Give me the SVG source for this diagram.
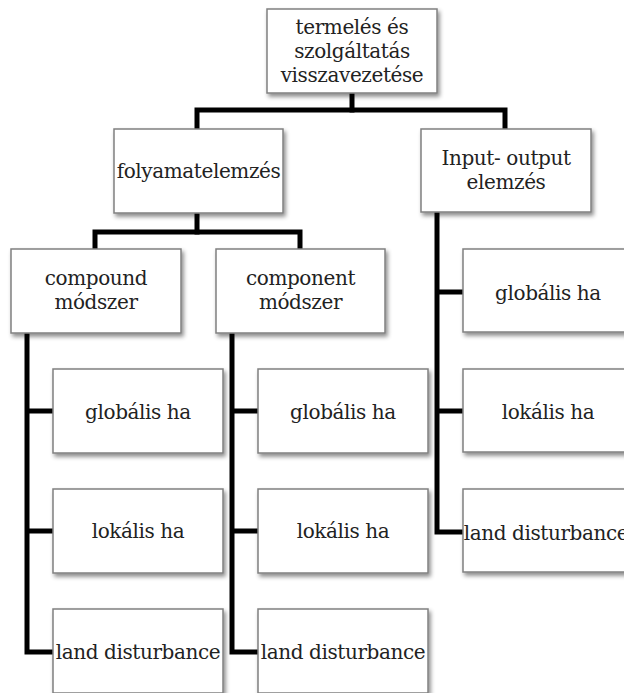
<svg xmlns="http://www.w3.org/2000/svg" width="624" height="693" viewBox="0 0 624 693">
<defs>
<filter id="sh" x="-10%" y="-10%" width="125%" height="135%">
<feDropShadow dx="2" dy="3" stdDeviation="2" flood-color="#000" flood-opacity="0.45"/>
</filter>
</defs>
<style>
.box{fill:#fff;stroke:#808080;stroke-width:1.5;filter:url(#sh)}
.t{font-family:'DejaVu Serif',serif;font-size:20px;fill:#222;text-anchor:middle;letter-spacing:-0.4px}
.c{fill:none;stroke:#000;stroke-width:5;stroke-linejoin:miter;stroke-linecap:square}
</style>
<rect width="624" height="693" fill="#fff"/>
<g id="connectors">
<path class="c" d="M352,95 V110"/>
<path class="c" d="M197,127 V110 H505 V127"/>
<path class="c" d="M197,215 V232"/>
<path class="c" d="M95,247 V232 H300 V247"/>
<path class="c" d="M27,335 V652 H51 M27,411 H51 M27,531 H51"/>
<path class="c" d="M232,335 V652 H256 M232,411 H256 M232,531 H256"/>
<path class="c" d="M437,214 V532 H461 M437,292 H461 M437,411 H461"/>
</g>
<g id="root">
<rect class="box" x="267" y="9" width="170" height="84"/>
<text class="t" x="352" y="34">termelés és</text>
<text class="t" x="352" y="58">szolgáltatás</text>
<text class="t" x="352" y="82">visszavezetése</text>
</g>
<g id="folyamat">
<rect class="box" x="114" y="129" width="169" height="84"/>
<text class="t" x="198.5" y="178">folyamatelemzés</text>
</g>
<g id="io">
<rect class="box" x="421" y="129" width="170" height="83"/>
<text class="t" x="506" y="165">Input- output</text>
<text class="t" x="506" y="189">elemzés</text>
</g>
<g id="compound">
<rect class="box" x="11" y="249" width="170" height="84"/>
<text class="t" x="96" y="285">compound</text>
<text class="t" x="96" y="309">módszer</text>
</g>
<g id="component">
<rect class="box" x="216" y="249" width="169" height="84"/>
<text class="t" x="300.5" y="285">component</text>
<text class="t" x="300.5" y="309">módszer</text>
</g>
<g id="io-global">
<rect class="box" x="463" y="249" width="170" height="83"/>
<text class="t" x="548" y="300">globális ha</text>
</g>
<g id="io-local">
<rect class="box" x="463" y="369" width="170" height="83"/>
<text class="t" x="548" y="419">lokális ha</text>
</g>
<g id="io-land">
<rect class="box" x="463" y="489" width="170" height="83"/>
<text class="t" x="546" y="540">land disturbance</text>
</g>
<g id="compound-global">
<rect class="box" x="53" y="369" width="170" height="84"/>
<text class="t" x="138" y="419">globális ha</text>
</g>
<g id="compound-local">
<rect class="box" x="53" y="489" width="170" height="84"/>
<text class="t" x="138" y="538">lokális ha</text>
</g>
<g id="compound-land">
<rect class="box" x="53" y="609" width="170" height="84"/>
<text class="t" x="138" y="659">land disturbance</text>
</g>
<g id="component-global">
<rect class="box" x="258" y="369" width="170" height="84"/>
<text class="t" x="343" y="419">globális ha</text>
</g>
<g id="component-local">
<rect class="box" x="258" y="489" width="170" height="84"/>
<text class="t" x="343" y="538">lokális ha</text>
</g>
<g id="component-land">
<rect class="box" x="258" y="609" width="170" height="84"/>
<text class="t" x="343" y="659">land disturbance</text>
</g>
</svg>
